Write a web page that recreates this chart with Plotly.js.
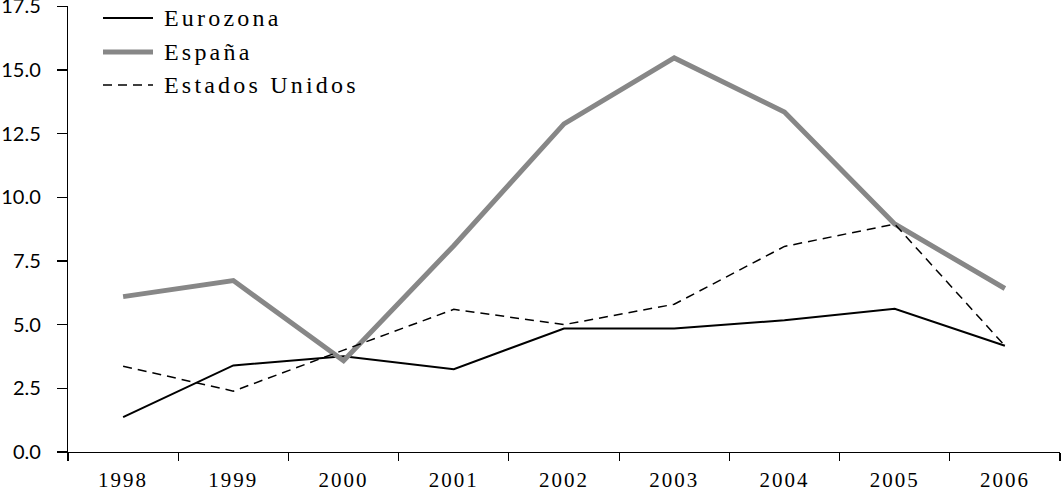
<!DOCTYPE html>
<html>
<head>
<meta charset="utf-8">
<script src="https://cdn.plot.ly/plotly-3.0.1.min.js"></script>
<style>
  html, body { margin: 0; padding: 0; background: #fff; }
  #chart { width: 1061px; height: 493px; }
  .xtick text { letter-spacing: 2px; }
  .annotation-text { letter-spacing: 3.2px; }
</style>
</head>
<body>
<div id="chart"></div>
<script>
const years = ["1998", "1999", "2000", "2001", "2002", "2003", "2004", "2005", "2006"];
const eurozona = [1.37, 3.4, 3.76, 3.25, 4.85, 4.85, 5.17, 5.62, 4.17];
const espana = [6.1, 6.73, 3.58, 8.1, 12.88, 15.47, 13.35, 8.95, 6.42];
const estadosUnidos = [3.37, 2.39, 4.0, 5.6, 5.0, 5.8, 8.07, 8.95, 4.17];
const seriesNames = ["Eurozona", "España", "Estados Unidos"];
const yTicks = [0, 2.5, 5, 7.5, 10, 12.5, 15, 17.5];
const yTickLabels = ["0.0", "2.5", "5.0", "7.5", "10.0", "12.5", "15.0", "17.5"];

const styles = [
  { color: "#000000", width: 2, dash: "solid" },
  { color: "#878787", width: 5, dash: "solid" },
  { color: "#000000", width: 1.5, dash: "9px,6px" }
];
const data = [eurozona, espana, estadosUnidos].map((vals, i) => ({
  type: "scatter", mode: "lines", x: years, y: vals, name: seriesNames[i],
  line: styles[i], hoverinfo: "x+y+name", cliponaxis: false
}));

// legend drawn manually (pixel positions converted to paper coords)
const L = 68, R = 1060, T = 6, B = 452;
const px = v => (v - L) / (R - L);
const py = v => (B - v) / (B - T);
const legendY = [18, 52, 85];
const shapes = [], annotations = [];
legendY.forEach((yy, i) => {
  shapes.push({ type: "line", xref: "paper", yref: "paper", x0: px(103), x1: px(153), y0: py(yy), y1: py(yy),
    line: { color: styles[i].color, width: styles[i].width, dash: styles[i].dash } });
  annotations.push({ xref: "paper", yref: "paper", x: px(162), y: py(yy), xanchor: "left", yanchor: "middle",
    text: seriesNames[i], showarrow: false, font: { family: "Liberation Serif, serif", size: 24, color: "#000" } });
});

const layout = {
  width: 1061, height: 493,
  margin: { l: L, r: 1061 - R, t: T, b: 493 - B },
  paper_bgcolor: "#fff", plot_bgcolor: "#fff",
  showlegend: false,
  xaxis: {
    type: "category", range: [-0.5, 8.5], tickson: "boundaries",
    ticks: "outside", ticklen: 8, tickcolor: "#000", tickwidth: 1.2,
    showline: true, linecolor: "#000", linewidth: 1.2, showgrid: false, zeroline: false,
    ticklabelstandoff: 9,
    tickfont: { family: "Liberation Serif, serif", size: 21, color: "#000" }
  },
  yaxis: {
    range: [0, 17.51], tickvals: yTicks, ticktext: yTickLabels,
    ticks: "outside", ticklen: 10, tickcolor: "#000", tickwidth: 1.2,
    showline: true, linecolor: "#000", linewidth: 1.2, showgrid: false, zeroline: false,
    ticklabelstandoff: 12, ticklabeloverflow: "allow",
    tickfont: { family: "Lato, sans-serif", size: 20, color: "#000" }
  },
  shapes: shapes,
  annotations: annotations
};

Plotly.newPlot("chart", data, layout, { displayModeBar: false, staticPlot: true });
</script>
</body>
</html>
